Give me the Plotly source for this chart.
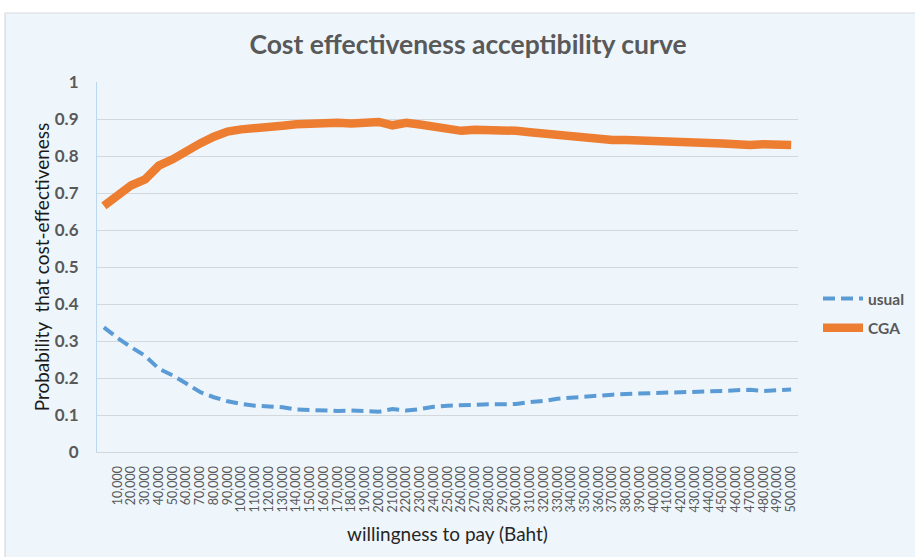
import plotly.graph_objects as go

# Willingness-to-pay thresholds (Baht); the first point (0) carries no tick label
wtp = [0, 10000, 20000, 30000, 40000, 50000, 60000, 70000, 80000, 90000,
       100000, 110000, 120000, 130000, 140000, 150000, 160000, 170000, 180000, 190000,
       200000, 210000, 220000, 230000, 240000, 250000, 260000, 270000, 280000, 290000,
       300000, 310000, 320000, 330000, 340000, 350000, 360000, 370000, 380000, 390000,
       400000, 410000, 420000, 430000, 440000, 450000, 460000, 470000, 480000, 490000,
       500000]

usual = [0.337, 0.308, 0.283, 0.260, 0.225, 0.207, 0.185, 0.162, 0.148, 0.137,
         0.130, 0.125, 0.123, 0.121, 0.115, 0.113, 0.112, 0.111, 0.112, 0.111,
         0.109, 0.116, 0.112, 0.116, 0.122, 0.125, 0.127, 0.129, 0.129, 0.129,
         0.130, 0.135, 0.138, 0.144, 0.147, 0.151, 0.152, 0.155, 0.157, 0.158,
         0.159, 0.159, 0.160, 0.161, 0.163, 0.165, 0.167, 0.168, 0.165, 0.167,
         0.169]

cga = [0.665, 0.695, 0.721, 0.737, 0.774, 0.791, 0.814, 0.834, 0.852, 0.866,
       0.872, 0.877, 0.879, 0.882, 0.886, 0.889, 0.889, 0.890, 0.888, 0.891,
       0.892, 0.883, 0.890, 0.885, 0.879, 0.873, 0.868, 0.871, 0.871, 0.869,
       0.868, 0.864, 0.860, 0.855, 0.852, 0.848, 0.845, 0.843, 0.843, 0.841,
       0.838, 0.837, 0.837, 0.836, 0.835, 0.834, 0.830, 0.830, 0.832, 0.831,
       0.830]

y_ticks = [0, 0.1, 0.2, 0.3, 0.4, 0.5, 0.6, 0.7, 0.8, 0.9, 1]
y_tick_text = ["0", "0.1", "0.2", "0.3", "0.4", "0.5", "0.6", "0.7", "0.8", "0.9", "1"]
x_tick_text = [f"{v:,}" for v in wtp[1:]]

FONT = "Lato"
GREY = "#595959"
BLUE = "#5B9BD5"
ORANGE = "#ED7D31"
PANEL = "#EEF6FC"

fig = go.Figure()
fig.add_trace(go.Scatter(
    x=wtp, y=usual, mode="lines", name="usual", legendgroup="usual",
    line=dict(color=BLUE, width=4, dash="12px,6px"),
))
fig.add_trace(go.Scatter(
    x=wtp, y=cga, mode="lines", name="CGA", legendgroup="cga",
    line=dict(color=ORANGE, width=8.5),
))

# Light-blue chart panel with a thin grey frame
fig.add_shape(
    type="rect", xref="paper", yref="paper",
    x0=-0.1312, x1=1.18, y0=-0.32, y1=1.1865,
    fillcolor=PANEL, line=dict(color="#D5D9DD", width=1.2), layer="below",
)

fig.update_layout(
    width=915, height=557,
    margin=dict(l=97, r=117, t=82, b=105),
    paper_bgcolor="white",
    plot_bgcolor=PANEL,
    font=dict(family=FONT, color=GREY),
    title=dict(
        text="Cost effectiveness acceptibility curve",
        x=468 / 915, xanchor="center", xref="container",
        y=1 - 45 / 557, yanchor="middle", yref="container",
        font=dict(family=FONT, size=26.5, color=GREY, weight="bold"),
    ),
    showlegend=True,
    legend=dict(
        xref="container", yref="container",
        x=818 / 915, xanchor="left", y=1 - 282 / 557, yanchor="top",
        bgcolor="rgba(0,0,0,0)",
        font=dict(family=FONT, size=15.5, color=GREY, weight="bold"),
        tracegroupgap=6, itemwidth=40,
    ),
    xaxis=dict(
        range=[-5000, 505000],
        tickmode="array", tickvals=wtp[1:], ticktext=x_tick_text,
        tickangle=-90,
        tickfont=dict(family=FONT, size=12.5, color=GREY),
        ticks="outside", ticklen=8, tickcolor="rgba(0,0,0,0)",
        showgrid=False, zeroline=False,
        showline=True, linecolor="#D3D8DC", linewidth=1.2,
        title=dict(text="willingness to pay (Baht)",
                   font=dict(family=FONT, size=19, color="#262626"),
                   standoff=16),
    ),
    yaxis=dict(
        range=[0, 1],
        tickmode="array", tickvals=y_ticks, ticktext=y_tick_text,
        tickfont=dict(family=FONT, size=17, color=GREY, weight="bold"),
        ticks="outside", ticklen=14, tickcolor="rgba(0,0,0,0)",
        showgrid=True, gridcolor="#D3D8DC", gridwidth=1.2,
        zeroline=False,
        showline=True, linecolor="#BCD6EC", linewidth=1.2,
        title=dict(text="Probability  that cost-effectiveness",
                   font=dict(family=FONT, size=19, color="#1A1A1A"),
                   standoff=0),
    ),
)

fig.write_html("out.html")
